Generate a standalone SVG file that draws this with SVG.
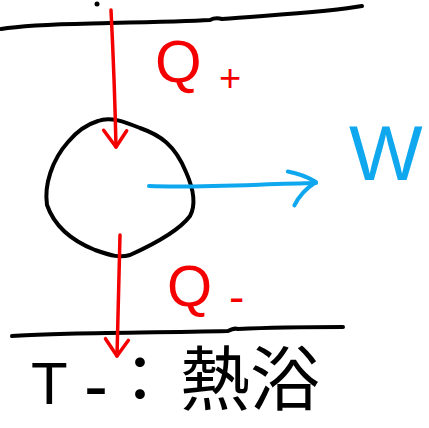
<svg xmlns="http://www.w3.org/2000/svg" width="429" height="428" viewBox="0 0 429 428">
<style>
.pen{fill:none;stroke:#000;stroke-width:4;stroke-linecap:round;stroke-linejoin:round}
.red{fill:none;stroke:#f40000;stroke-width:3.5;stroke-linecap:round;stroke-linejoin:round}
.blue{fill:none;stroke:#0fa8ee;stroke-width:4;stroke-linecap:round;stroke-linejoin:round}
.lr{fill:#f40000;font-family:"Liberation Sans",Arial,sans-serif}
.lb{fill:#0fa8ee;font-family:"Liberation Sans",Arial,sans-serif}
.lk{fill:#000;font-family:"Noto Sans CJK JP","Liberation Sans",sans-serif}
.ls{font-family:"Liberation Sans",Arial,sans-serif}
</style>
<defs>
<marker id="hr" markerUnits="userSpaceOnUse" markerWidth="40" markerHeight="40" refX="0" refY="0" viewBox="-20 -20 40 40" orient="auto" overflow="visible">
<path d="M-16,-11 L0,0 L-17,12" fill="none" stroke="#f40000" stroke-width="3.5" stroke-linecap="round" stroke-linejoin="round"/>
</marker>
<marker id="hb" markerUnits="userSpaceOnUse" markerWidth="40" markerHeight="40" refX="0" refY="0" viewBox="-20 -20 40 40" orient="auto" overflow="visible">
<path d="M-28,-12 C-18,-10 -8,-6 0,-1 C-8,4 -16,10 -22,22" fill="none" stroke="#0fa8ee" stroke-width="4" stroke-linecap="round" stroke-linejoin="round"/>
</marker>
</defs>
<g id="hot-reservoir">
<circle cx="97" cy="4" r="2.5" fill="#000"/>
<path class="pen" d="M1,29 C30,24 70,24 110,23 C160,22 195,21 210,20 C214,18 218,18 222,19 C270,15 330,12 362,6"/>
</g>
<g id="engine">
<path class="pen" d="M98,121 C110,116 125,122 140,128 C160,135 175,145 186,172 C194,190 196,205 190,216 C178,232 150,246 130,255 C120,258 112,256 95,250 C75,242 55,228 47,205 C44,185 52,160 68,142 C78,130 88,124 98,121"/>
</g>
<g id="cold-reservoir">
<path class="pen" d="M12,336 C60,332 150,333 228,331 C232,329 234,328 238,329 C280,327 320,327 343,327"/>
<text class="lk" y="404"><tspan class="ls" x="31" font-size="60">T</tspan><tspan class="ls" x="84" y="410" font-size="72">-</tspan><tspan x="108" y="402" font-size="64">：</tspan><tspan x="180" y="405" font-size="70">熱浴</tspan></text>
</g>
<g id="connectors">
<path class="red" d="M111,10 C113,50 115,100 116,147" marker-end="url(#hr)"/>
<path class="red" d="M120,235 C119,280 118,320 117,356" marker-end="url(#hr)"/>
<path class="blue" d="M149,186 C200,188 260,184 316,183" marker-end="url(#hb)"/>
</g>
<g id="labels">
<text class="lr" x="155" y="82" font-size="60">Q</text>
<text class="lr" x="219" y="91" font-size="38">+</text>
<text class="lr" x="167" y="306" font-size="58">Q</text>
<text class="lr" x="229" y="313" font-size="46">-</text>
<text class="lb" x="349" y="180" font-size="78">W</text>
</g>
</svg>
